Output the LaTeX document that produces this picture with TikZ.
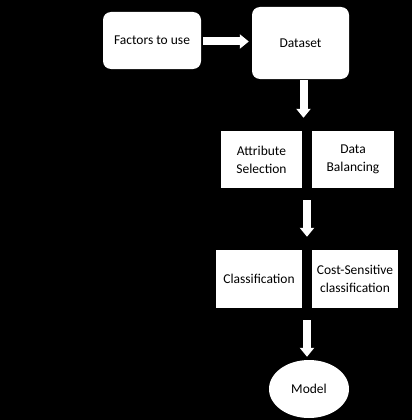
\documentclass[tikz,border=0pt]{standalone}
\usepackage{fontspec}
\setmainfont{Carlito}
\usetikzlibrary{arrows.meta,calc,shapes.geometric}
\begin{document}
\begin{tikzpicture}[x=1pt,y=-1pt,
  box/.style={fill=white,draw=none,text=black,align=center,inner sep=0pt,
    font=\fontsize{13.5}{18}\selectfont},
  rbox/.style={box,rounded corners=8pt},
  blk/.style={draw=white,line width=8pt,
    -{Triangle[length=9pt 0 0,width=14pt 0 0]}}]
\fill[black] (0,0) rectangle (412,420);
\useasboundingbox (0,0) rectangle (412,420);
\node[rbox,minimum width=98pt,minimum height=57pt] (fac) at (152,40.5) {Factors to use};
\node[rbox,minimum width=97pt,minimum height=72pt] (data) at (300.5,43) {Dataset};
\node[box,minimum width=81pt,minimum height=57pt] (attr) at (261.5,159.5) {Attribute\\Selection};
\node[box,minimum width=82pt,minimum height=57pt] (bal) at (353,159.5) {Data\\Balancing};
\node[box,minimum width=86pt,minimum height=58pt] (cls) at (259,279) {Classification};
\node[box,minimum width=86pt,minimum height=58pt] (cost) at (355,279) {Cost-Sensitive\\classification};
\node[box,ellipse,minimum width=80pt,minimum height=58pt] (model) at (309,389) {Model};
\coordinate (g1) at ($(attr.south east)!0.5!(bal.south west)$);
\coordinate (g2) at ($(cls.south east)!0.5!(cost.south west)$);
\draw[blk,shorten <=2pt,shorten >=3pt] ([yshift=-1pt]fac.east) -- ([yshift=-1pt]fac.east -| data.west);
\draw[blk,shorten <=1pt,shorten >=13pt] ([xshift=3pt]data.south) -- ([xshift=3pt]data.south |- attr.north);
\draw[blk,shorten <=12pt,shorten >=13pt] (g1) -- (g1 |- cls.north);
\draw[blk,shorten <=12pt,shorten >=3pt] (g2) -- (g2 |- model.north);
\end{tikzpicture}
\end{document}
